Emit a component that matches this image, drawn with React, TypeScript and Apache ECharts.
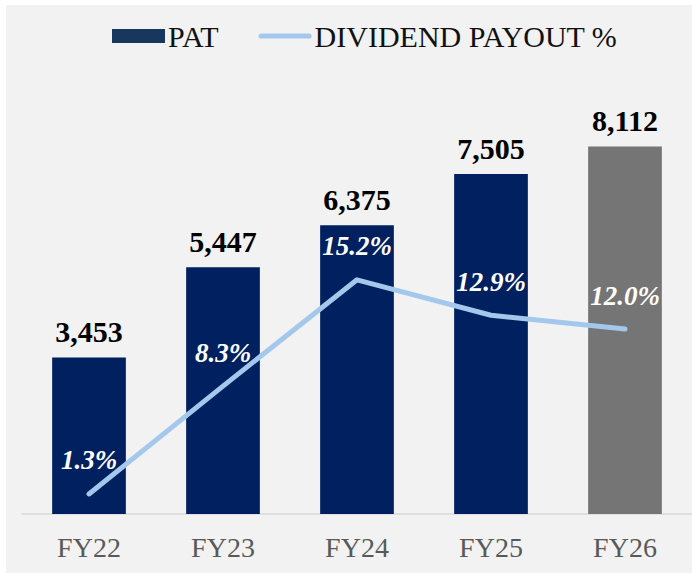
import React, { useEffect, useRef } from "react";
import * as echarts from "echarts";

const categories = ["FY22", "FY23", "FY24", "FY25", "FY26"];
const patValues = [3453, 5447, 6375, 7505, 8112];
const payoutValues = [1.3, 8.3, 15.2, 12.9, 12.0];

const FONT = "'Liberation Serif', 'Times New Roman', serif";
const LINE_COLOR = "#a4c8ec";

export default function App() {
  const ref = useRef<HTMLDivElement>(null);
  useEffect(() => {
    if (!ref.current) return;
    const chart = echarts.init(ref.current, null, { renderer: "svg" });
    chart.setOption({
      animation: false,
      backgroundColor: "#f2f2f2",
      textStyle: { fontFamily: FONT },
      legend: {
        left: 101,
        top: 11,
        itemWidth: 53,
        itemHeight: 14,
        itemGap: 40,
        textStyle: { fontFamily: FONT, fontSize: 30, color: "#111", padding: [0, 0, 0, -2] },
        data: [
          { name: "PAT", icon: "rect", itemStyle: { color: "#17375E" } },
          {
            name: "DIVIDEND PAYOUT %",
            icon: "path://M2.5,0 H49.5 A2.5,2.5 0 0 1 49.5,5 H2.5 A2.5,2.5 0 0 1 2.5,0 Z",
            itemStyle: { color: LINE_COLOR, opacity: 1, borderWidth: 0 },
          },
        ],
      },
      grid: { left: 16, right: 0, top: 56, bottom: 59 },
      xAxis: {
        type: "category",
        data: categories,
        axisLine: { lineStyle: { color: "#d9d9d9", width: 1.5 } },
        axisTick: { show: false },
        axisLabel: { color: "#595959", fontSize: 28, fontFamily: FONT, margin: 19 },
      },
      yAxis: [
        { type: "value", min: 0, max: 10000, show: false, splitLine: { show: false } },
        { type: "value", min: 0, max: 29.4, show: false, splitLine: { show: false } },
      ],
      series: [
        {
          name: "PAT",
          type: "bar",
          barWidth: "55%",
          itemStyle: { color: "#002060" },
          data: patValues.map((v, i) =>
            i === patValues.length - 1 ? { value: v, itemStyle: { color: "#757575" } } : v
          ),
          label: {
            show: true,
            position: "top",
            distance: 11,
            color: "#000",
            fontWeight: "bold",
            fontSize: 30,
            fontFamily: FONT,
            formatter: (p: any) => Number(p.value).toLocaleString("en-US"),
          },
        },
        {
          name: "DIVIDEND PAYOUT %",
          type: "line",
          yAxisIndex: 1,
          symbol: "circle",
          symbolSize: 0.01,
          showSymbol: true,
          lineStyle: { color: LINE_COLOR, width: 5, cap: "round", join: "round" },
          itemStyle: { color: LINE_COLOR, opacity: 0 },
          data: payoutValues,
          label: {
            show: true,
            position: "top",
            distance: 20,
            color: "#fff",
            opacity: 1,
            fontWeight: "bold",
            fontStyle: "italic",
            fontSize: 27,
            fontFamily: FONT,
            formatter: (p: any) => Number(p.value).toFixed(1) + "%",
          },
          z: 5,
        },
      ],
    });
    return () => chart.dispose();
  }, []);
  return (
    <div style={{ position: "fixed", left: 0, top: 0, width: 692, height: 574, background: "#fff" }}>
      <div ref={ref} style={{ position: "absolute", left: 6, top: 5, width: 686, height: 568 }} />
    </div>
  );
}
